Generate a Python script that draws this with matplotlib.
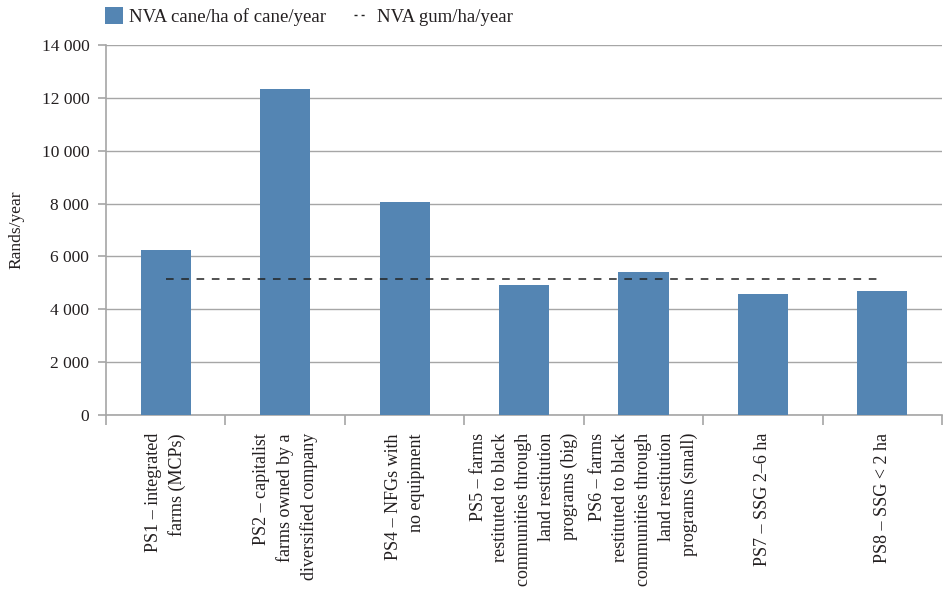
import matplotlib
matplotlib.use("Agg")
import matplotlib.pyplot as plt
from matplotlib.ticker import FuncFormatter
from matplotlib.lines import Line2D
from matplotlib.patches import Patch

categories = [
    "PS1 – integrated\nfarms (MCPs)",
    "PS2 – capitalist\nfarms owned by a\ndiversified company",
    "PS4 – NFGs with\nno equipment",
    "PS5 – farms\nrestituted to black\ncommunities through\nland restitution\nprograms (big)",
    "PS6 – farms\nrestituted to black\ncommunities through\nland restitution\nprograms (small)",
    "PS7 – SSG 2–6 ha",
    "PS8 – SSG < 2 ha",
]
nva_cane = [6250, 12330, 8060, 4920, 5410, 4580, 4690]
nva_gum = [5140] * len(categories)
yticks = [0, 2000, 4000, 6000, 8000, 10000, 12000, 14000]

plt.rcParams['font.family'] = ['Liberation Serif', 'DejaVu Serif']

fig = plt.figure(figsize=(9.43, 5.96), dpi=100)
ax = fig.add_axes([0.1124, 0.3037, 0.8866, 0.6208])

bar_color = '#5485b3'
grid_color = '#a6a6a6'
text_color = '#231f20'
dash = (0, (5, 5))
x = list(range(len(categories)))
ax.bar(x, nva_cane, width=0.42, color=bar_color, zorder=3)
ax.plot(x, nva_gum, linestyle=dash, color='#222222', linewidth=1.1, zorder=4)

ax.set_xlim(-0.5, len(categories) - 0.5)
ax.set_ylim(0, 14000)
ax.set_yticks(yticks)
ax.yaxis.set_major_formatter(FuncFormatter(lambda v, p: f"{int(v):,}".replace(",", " ")))
ax.yaxis.grid(True, color=grid_color, linewidth=1.0, zorder=0)
ax.set_axisbelow(True)

for s in ['top', 'right']:
    ax.spines[s].set_visible(False)
for s in ['left', 'bottom']:
    ax.spines[s].set_color(grid_color)
    ax.spines[s].set_linewidth(1.2)

ax.set_xticks([i - 0.5 for i in range(len(categories) + 1)])
ax.set_xticklabels([])
ax.set_xticks(x, minor=True)
ax.set_xticklabels(categories, minor=True, rotation=90, ha='center', va='top',
                   multialignment='right', fontsize=13, color=text_color,
                   linespacing=1.45)
ax.tick_params(axis='x', which='minor', length=0, pad=13)
ax.tick_params(axis='x', which='major', length=7, color=grid_color, width=1.2)
ax.tick_params(axis='y', length=6, color=grid_color, width=1.2, labelsize=12.5,
               labelcolor=text_color, pad=6)

ax.set_ylabel("Rands/year", fontsize=12.5, color=text_color, labelpad=12)

handles = [Patch(facecolor=bar_color, edgecolor='none'),
           Line2D([0], [0], linestyle=(0, (2.2, 2.9, 2.2, 20)), color='#222222',
                  linewidth=1.0)]
fig.legend(handles, ["NVA cane/ha of cane/year", "NVA gum/ha/year"],
           loc='upper left', bbox_to_anchor=(0.0934, 1.016), ncol=2, frameon=False,
           fontsize=13.5, handlelength=0.96, handleheight=0.96, columnspacing=1.5,
           handletextpad=0.3, labelcolor=text_color)

fig.savefig("out.png", dpi=100)
